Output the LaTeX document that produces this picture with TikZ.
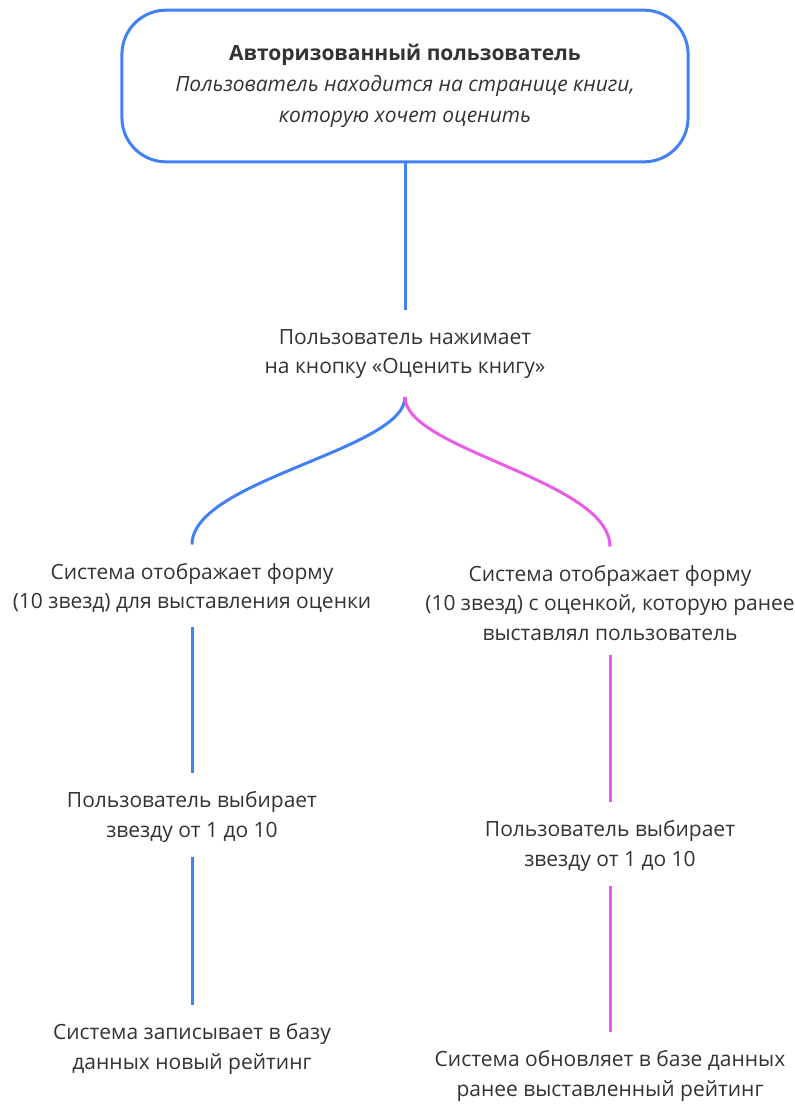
\documentclass[tikz,border=0pt]{standalone}
\usepackage{fontspec}
\setmainfont{Open Sans}
\usepackage{tikz}
\usetikzlibrary{positioning, calc}
\definecolor{flowblue}{RGB}{66,128,245}
\definecolor{flowpink}{RGB}{234,92,230}
\definecolor{flowtext}{RGB}{51,51,51}
\tikzstyle{startbox} = [draw=flowblue, line width=1.7pt, rounded corners=25pt, minimum width=321pt, minimum height=86pt, align=center, text=flowtext, font=\fontsize{11.9}{17.4}\selectfont]
\tikzstyle{stepnode} = [align=center, inner sep=0pt, text=flowtext, font=\fontsize{11.9}{16.6}\selectfont]
\tikzstyle{blueline} = [draw=flowblue, line width=1.7pt, shorten <=8pt, shorten >=10.5pt]
\tikzstyle{pinkline} = [draw=flowpink, line width=1.7pt, shorten <=8pt, shorten >=10.5pt]

\begin{document}
\begin{tikzpicture}[x=0.567pt, y=-0.567pt]
    \useasboundingbox (0,0) rectangle (795,1106);
    \node[startbox] (user) at (405,86) {\textbf{Авторизованный пользователь}\\
        \textit{Пользователь находится на странице книги,}\\
        \textit{которую хочет оценить}};
    \node[stepnode] (press) at (405,354) {Пользователь нажимает\\на кнопку «Оценить книгу»};
    \coordinate (fork) at (405,397);
    % blue branch
    \node[stepnode] (lshow) at (192,588) {Система отображает форму\\(10 звезд) для выставления оценки};
    \node[stepnode] (lpick) at (192,817) {Пользователь выбирает\\звезду от 1 до 10};
    \node[stepnode] (lsave) at (192,1049) {Система записывает в базу\\данных новый рейтинг};
    % pink branch
    \node[stepnode] (rshow) at (610,603) {Система отображает форму\\(10 звезд) с оценкой, которую ранее\\выставлял пользователь};
    \node[stepnode] (rpick) at (610,846) {Пользователь выбирает\\звезду от 1 до 10};
    \node[stepnode] (rsave) at (610,1076) {Система обновляет в базе данных\\ранее выставленный рейтинг};

    \draw[blueline, shorten <=0pt] (user.south) -- (press.north);
    \draw[blueline, shorten <=0pt] (fork) .. controls (405,450) and (192,480) .. (lshow.north);
    \draw[pinkline, shorten <=0pt] (fork) .. controls (405,450) and (610,480) .. (rshow.north);
    \draw[blueline] (lshow) -- (lpick);
    \draw[blueline] (lpick) -- (lsave);
    \draw[pinkline] (rshow) -- (rpick);
    \draw[pinkline] (rpick) -- (rsave);
\end{tikzpicture}
\end{document}
